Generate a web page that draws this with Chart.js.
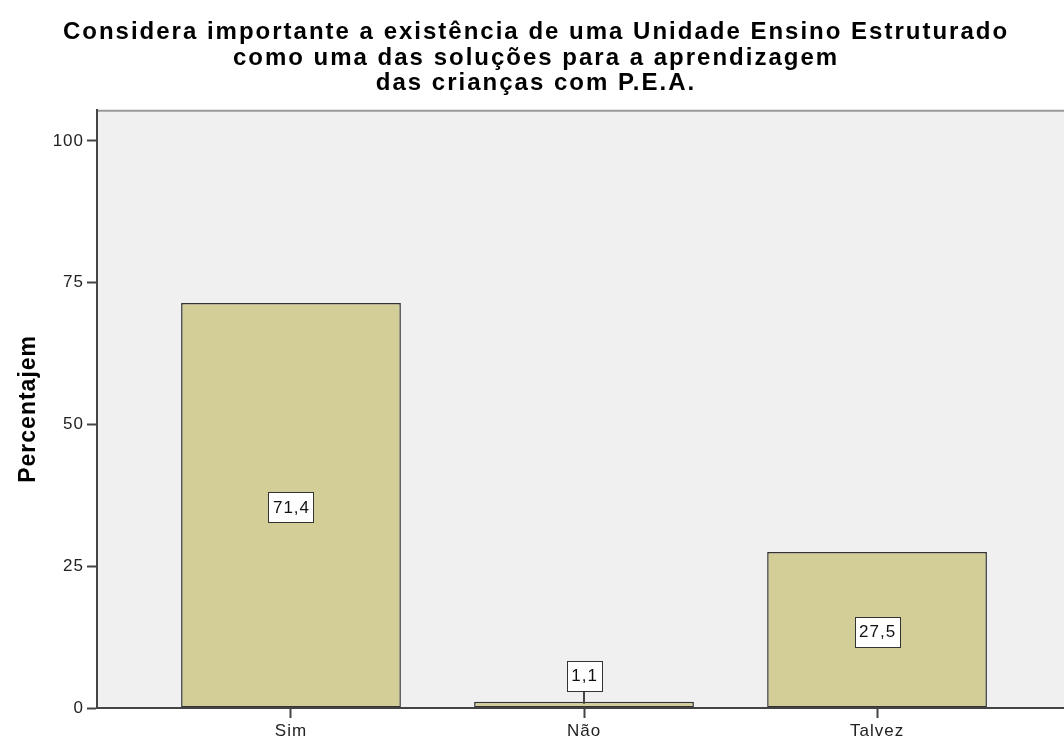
<!DOCTYPE html>
<html>
<head>
<meta charset="utf-8">
<script src="https://cdn.jsdelivr.net/npm/chart.js@4"></script>
<style>
  html, body { margin: 0; padding: 0; background: #fff; }
  #wrap { width: 1064px; height: 742px; }
</style>
</head>
<body>
<div id="wrap"><canvas id="chart" width="1064" height="742"></canvas></div>
<script>
// Answer categories and their percentages
const categories = ['Sim', 'Não', 'Talvez']
const percentages = [71.4, 1.1, 27.5]
const yTicks = [0, 25, 50, 75, 100]
const titleLines = [
    'Considera importante a existência de uma Unidade Ensino Estruturado',
    'como uma das soluções para a aprendizagem',
    'das crianças com P.E.A.'
]

const fontFamily = '"Liberation Sans", Arial, sans-serif'
Chart.defaults.font.family = fontFamily

// Grey plot panel, top frame line, and letter spacing for the canvas text
const panelPlugin = {
    id: 'panel',
    beforeDraw(chart) {
        const { ctx, chartArea: a } = chart
        ctx.save()
        ctx.fillStyle = '#f0f0f0'
        ctx.fillRect(a.left, a.top, a.right - a.left, a.bottom - a.top)
        ctx.strokeStyle = '#9a9a9a'
        ctx.lineWidth = 2
        ctx.beginPath()
        ctx.moveTo(a.left, a.top + 1)
        ctx.lineTo(a.right, a.top + 1)
        ctx.stroke()
        ctx.restore()
        // chart title is drawn next, with wider spacing
        ctx.letterSpacing = '2px'
    },
    beforeDatasetsDraw(chart) {
        chart.ctx.letterSpacing = '1px'
    },
    afterDraw(chart) {
        chart.ctx.letterSpacing = '0px'
    }
}

// White boxes with the percentage of each bar
const valueLabels = {
    id: 'valueLabels',
    afterDatasetsDraw(chart) {
        const ctx = chart.ctx
        const meta = chart.getDatasetMeta(0)
        ctx.save()
        ctx.font = '17px ' + fontFamily
        ctx.textAlign = 'center'
        ctx.textBaseline = 'middle'
        meta.data.forEach((bar, i) => {
            const text = percentages[i].toFixed(1).replace('.', ',')
            const w = Math.round(ctx.measureText(text).width + 8)
            const h = 30
            const barH = bar.base - bar.y
            let cy = bar.y + barH / 2 + 2
            if (barH < h + 10) {
                // bar too short: put the box above it with a leader line
                cy = bar.y - 11 - h / 2
                ctx.strokeStyle = '#444'
                ctx.lineWidth = 2
                ctx.beginPath()
                ctx.moveTo(Math.round(bar.x), cy + h / 2)
                ctx.lineTo(Math.round(bar.x), bar.y + 2)
                ctx.stroke()
            }
            const x0 = Math.round(bar.x - w / 2) + 0.5
            const y0 = Math.round(cy - h / 2) + 0.5
            ctx.fillStyle = '#fff'
            ctx.fillRect(x0, y0, w, h)
            ctx.strokeStyle = '#333'
            ctx.lineWidth = 1
            ctx.strokeRect(x0, y0, w, h)
            ctx.fillStyle = '#111'
            ctx.fillText(text, bar.x + 0.5, cy + 1)
        })
        ctx.restore()
    }
}

// tick marks, axis line and labels all drawn after the bars
const axisGrid = {
    display: true,
    offset: false,
    drawOnChartArea: false,
    drawTicks: true,
    tickLength: 10,
    tickWidth: 2,
    tickColor: '#444',
    z: 1
}
const axisBorder = { color: '#444', width: 2, z: 1 }

const chart = new Chart(document.getElementById('chart'), {
    type: 'bar',
    data: {
        datasets: [{
            data: percentages.map((v, i) => ({ x: i, y: v })),
            backgroundColor: '#d3ce98',
            borderColor: '#333',
            borderWidth: 1.5,
            borderSkipped: false,
            barPercentage: 0.75,
            categoryPercentage: 1
        }]
    },
    options: {
        responsive: false,
        animation: false,
        events: [],
        layout: { padding: { left: 8 } },
        plugins: {
            legend: { display: false },
            tooltip: { enabled: false },
            title: {
                display: true,
                text: titleLines,
                color: '#000',
                font: { size: 24, weight: 'bold', lineHeight: 1.08 },
                padding: { top: 19, bottom: 13 }
            }
        },
        scales: {
            x: {
                type: 'linear',
                min: -0.662,
                max: 2.638,
                offset: false,
                afterBuildTicks: scale => {
                    scale.ticks = categories.map((c, i) => ({ value: i }))
                },
                afterFit: scale => { scale.height = 34 },
                grid: axisGrid,
                border: axisBorder,
                ticks: {
                    z: 1,
                    autoSkip: false,
                    maxRotation: 0,
                    padding: 3,
                    color: '#222',
                    font: { size: 17 },
                    callback: value => categories[value] ?? ''
                }
            },
            y: {
                min: 0,
                max: 105.5,
                afterBuildTicks: scale => {
                    scale.ticks = yTicks.map(v => ({ value: v }))
                },
                afterFit: scale => { scale.width = 89 },
                grid: axisGrid,
                border: axisBorder,
                ticks: {
                    z: 1,
                    autoSkip: false,
                    padding: 3,
                    color: '#222',
                    font: { size: 17 }
                },
                title: {
                    display: true,
                    text: 'Percentajem',
                    color: '#000',
                    font: { size: 23, weight: 'bold' },
                    padding: { top: 7, bottom: 0 }
                }
            }
        }
    },
    plugins: [panelPlugin, valueLabels]
})
</script>
</body>
</html>
